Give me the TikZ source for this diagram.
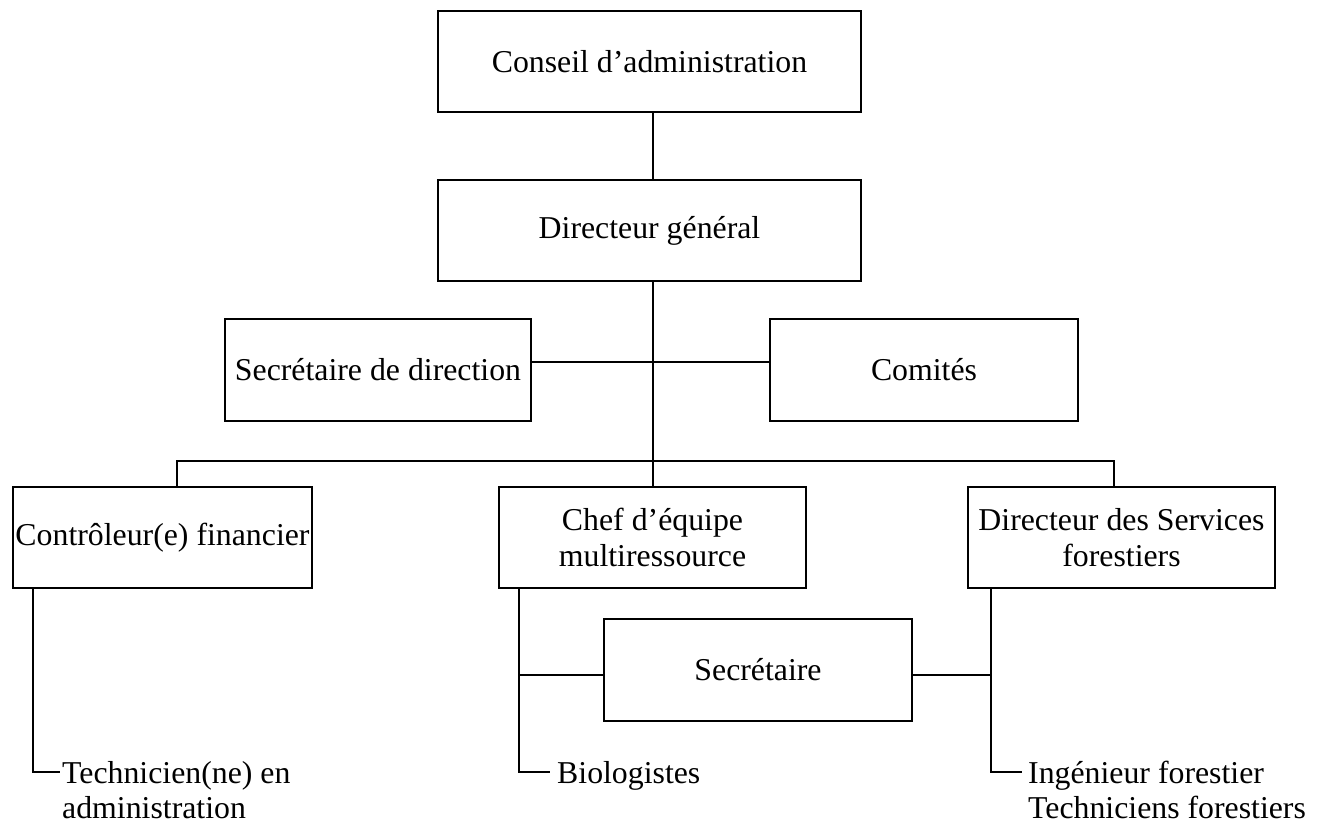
\documentclass[tikz,border=0pt]{standalone}
\usepackage{fontspec}
\setmainfont{Liberation Serif}
\begin{document}
\begin{tikzpicture}[x=1pt,y=-1pt,
  box/.style={draw, line width=2pt, rectangle, inner sep=0pt, align=center, font=\fontsize{31.8}{36}\selectfont},
  wire/.style={line width=2pt},
  lbl/.style={anchor=base west, align=left, inner sep=0pt, font=\fontsize{31.8}{35}\selectfont}]
\useasboundingbox (0,0) rectangle (1327,821);
\fill[white] (0,0) rectangle (1327,821);
% boxes
\node[box, minimum width=423pt, minimum height=101pt] (cons) at (649.5,61.5) {Conseil d’administration};
\node[box, minimum width=423pt, minimum height=101pt] (dg) at (649.5,230.5) {Directeur général};
\node[box, minimum width=306pt, minimum height=102pt] (sd) at (378,370) {Secrétaire de direction};
\node[box, minimum width=308pt, minimum height=102pt] (com) at (924,370) {Comités};
\node[box, minimum width=299pt, minimum height=101pt] (cf) at (162.5,537.5) {Contrôleur(e) financier};
\node[box, minimum width=307pt, minimum height=101pt] (chef) at (652.5,537.5) {Chef d’équipe\\multiressource};
\node[box, minimum width=307pt, minimum height=101pt] (ds) at (1121.5,537.5) {Directeur des Services\\forestiers};
\node[box, minimum width=308pt, minimum height=102pt] (sec) at (758,670) {Secrétaire};
% free labels (base anchor = baseline of last line)
\node[lbl] (tech) at (62,818) {Technicien(ne) en\\administration};
\node[lbl] (bio) at (557,783) {Biologistes};
\node[lbl] (ing) at (1028,818) {Ingénieur forestier\\Techniciens forestiers};
% coordinates
\coordinate (t) at (653,0);
\coordinate (busC) at (653,461);
\coordinate (busL) at (177,461);
\coordinate (busR) at (1114,461);
\coordinate (sdY) at (653,362);
\coordinate (cfV) at (33,772);
\coordinate (cfE) at (60,772);
\coordinate (chV) at (519,772);
\coordinate (chE) at (550,772);
\coordinate (chS) at (519,675);
\coordinate (dsV) at (991,772);
\coordinate (dsE) at (1022,772);
\coordinate (dsS) at (991,675);
% connectors
\draw[wire] (cons.south -| t) -- (dg.north -| t);
\draw[wire] (dg.south -| t) -- (busC) -- (chef.north -| busC);
\draw[wire] (sd.east |- sdY) -- (com.west |- sdY);
\draw[wire] (cf.north -| busL) -- (busL) -- (busR) -- (ds.north -| busR);
\draw[wire] (cf.south -| cfV) -- (cfV) -- (cfE);
\draw[wire] (chef.south -| chV) -- (chV) -- (chE);
\draw[wire] (chS) -- (sec.west |- chS);
\draw[wire] (ds.south -| dsV) -- (dsV) -- (dsE);
\draw[wire] (sec.east |- dsS) -- (dsS);
\end{tikzpicture}
\end{document}
